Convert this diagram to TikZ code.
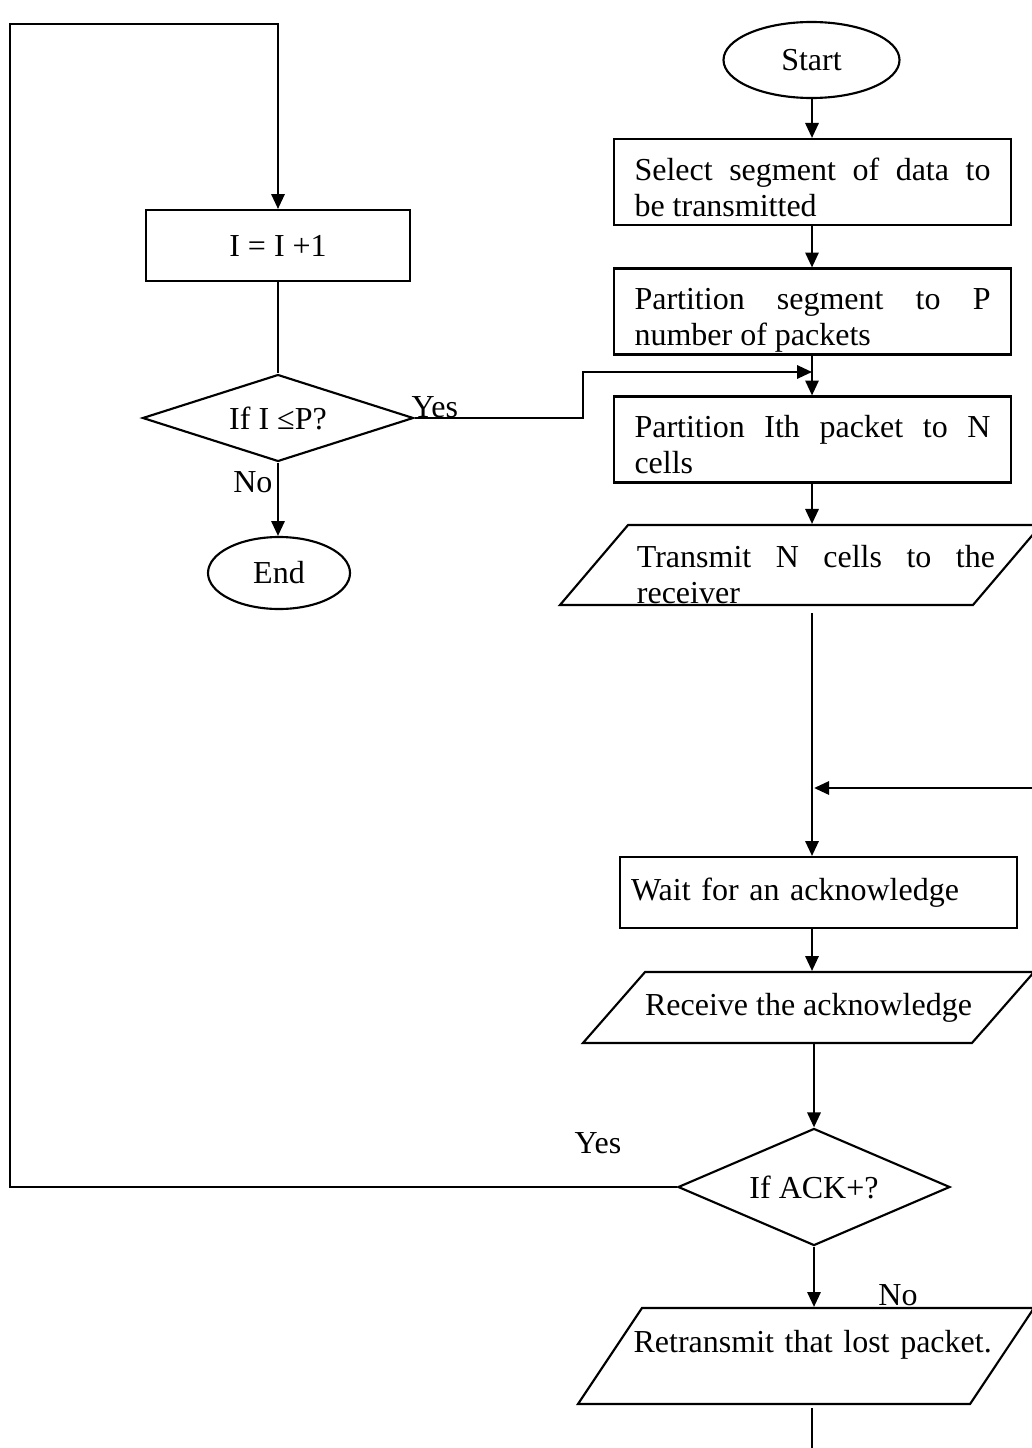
\documentclass[tikz,border=0pt]{standalone}
\usepackage{fontspec}
\setmainfont{Liberation Serif}
\usetikzlibrary{calc, shapes.geometric, arrows.meta}

\tikzset{
    every node/.style = {font = \fontsize{12pt}{13.5pt}\selectfont},
    line/.style = {black, line width = 0.8pt},
    arr/.style = {line, -{Triangle[length = 5.6pt, width = 5pt]}},
    term/.style = {draw, line width = 0.8pt, ellipse, inner sep = 0pt},
    procbox/.style = {draw, line width = 0.8pt, rectangle, minimum width = 148.9pt, minimum height = 32.25pt, text width = 133.5pt, align = justify, text height = 10pt, text depth = 11.5pt},
    iobox/.style = {draw, line width = 0.8pt, trapezium, trapezium left angle = #1, trapezium right angle = 180 - #1, trapezium stretches body, inner sep = 0pt},
    decision/.style = {draw, line width = 0.8pt, diamond, inner sep = 0pt}
}

\begin{document}
\begin{tikzpicture}[x = 0.375pt, y = -0.375pt]
            \useasboundingbox (0, 0) rectangle (1032, 1448);
            \coordinate (spine) at (812, 0);
            
            % main column
            \node[term, minimum width = 66pt, minimum height = 28.5pt] (start) at (811.5, 60) {Start};
            \node[procbox] (select) at (812.5, 182) {Select segment of data to\linebreak be transmitted};
            \node[procbox] (partition) at (812.5, 311.5) {Partition segment to P\linebreak number of packets};
            \node[procbox] (ith) at (812.5, 439.5) {Partition Ith packet to N\linebreak cells};
            \node[iobox = 40.1, minimum width = 180.4pt, minimum height = 30pt, inner xsep = -8.3pt, text width = 145.9pt, align = justify, text height = 11.5pt, text depth = 10pt] (transmit) at (800.5, 565) {\hspace*{11.6pt}Transmit N cells to the\linebreak \hspace*{11.6pt}receiver};
            \node[draw, line width = 0.8pt, minimum width = 148.9pt, minimum height = 26.6pt, text width = 140.6pt, align = left] (wait) at (818.5, 892.5) {Wait for an acknowledge};
            \node[iobox = 25.3, minimum width = 169.1pt, minimum height = 26.6pt, text height = 8.5pt, text depth = 2.5pt] (receive) at (808.5, 1007.5) {Receive the acknowledge};
            \node[decision, aspect = 2.32, minimum width = 102pt, minimum height = 43.9pt] (ack) at (814, 1187) {If ACK+?};
            \node[iobox = 43.8, minimum width = 171pt, minimum height = 36pt, inner xsep = -8.6pt, text width = 140pt, align = center, text height = 10pt, text depth = 13pt] (retransmit) at (806, 1356) {\hspace*{5pt}Retransmit that lost packet.};
            
            % left column
            \node[draw, line width = 0.8pt, minimum width = 99pt, minimum height = 26.6pt] (inc) at (278, 245.5) {I = I +1};
            \node[decision, aspect = 3.1, minimum width = 101.6pt, minimum height = 32.6pt] (cond) at (278, 418) {If I ≤P?};
            \node[term, minimum width = 53.25pt, minimum height = 27pt] (stop) at (279, 573) {End};
            
            \coordinate (retin) at (1032, 788);
            \coordinate (tail) at (812, 1448);
            \coordinate (jog) at (583, 372);
            \coordinate (corner) at (10, 24);
            
            \draw[arr] (start.south -| spine) -- (select.north -| spine);
            \draw[arr] (select.south -| spine) -- (partition.north -| spine);
            \draw[arr] (partition.south -| spine) -- (ith.north -| spine);
            \draw[arr] (ith.south -| spine) -- (transmit.north -| spine);
            \draw[arr, shorten <= 2.6pt] (transmit.south -| spine) -- (wait.north -| spine);
            \draw[arr, shorten >= 0.8pt] (retin) -- (retin -| spine);
            \draw[arr] (wait.south -| spine) -- (receive.north -| spine);
            \draw[arr] (ack.north |- receive.south) -- (ack.north);
            \draw[arr] (ack.south) -- (retransmit.north -| ack.south);
            \draw[line] ([yshift = -1pt]retransmit.south -| spine) -- (tail);
            
            \draw[arr] (ack.west) -| (corner) -| (inc.north);
            \draw[line] (inc.south) -- (cond.north);
            \draw[arr] (cond.south) -- (stop.north -| cond.south);
            \draw[arr] (cond.east) -| (jog) -- (jog -| spine);
            
            \node (yesack) at (598, 1143) {Yes};
            \node (noack) at (898, 1295) {No};
            \node[anchor = south west, inner sep = 0pt] (yescond) at (411, 418) {Yes};
            \node[anchor = base east, inner sep = 0pt] (nocond) at (273, 492) {No};
        \end{tikzpicture}
\end{document}
